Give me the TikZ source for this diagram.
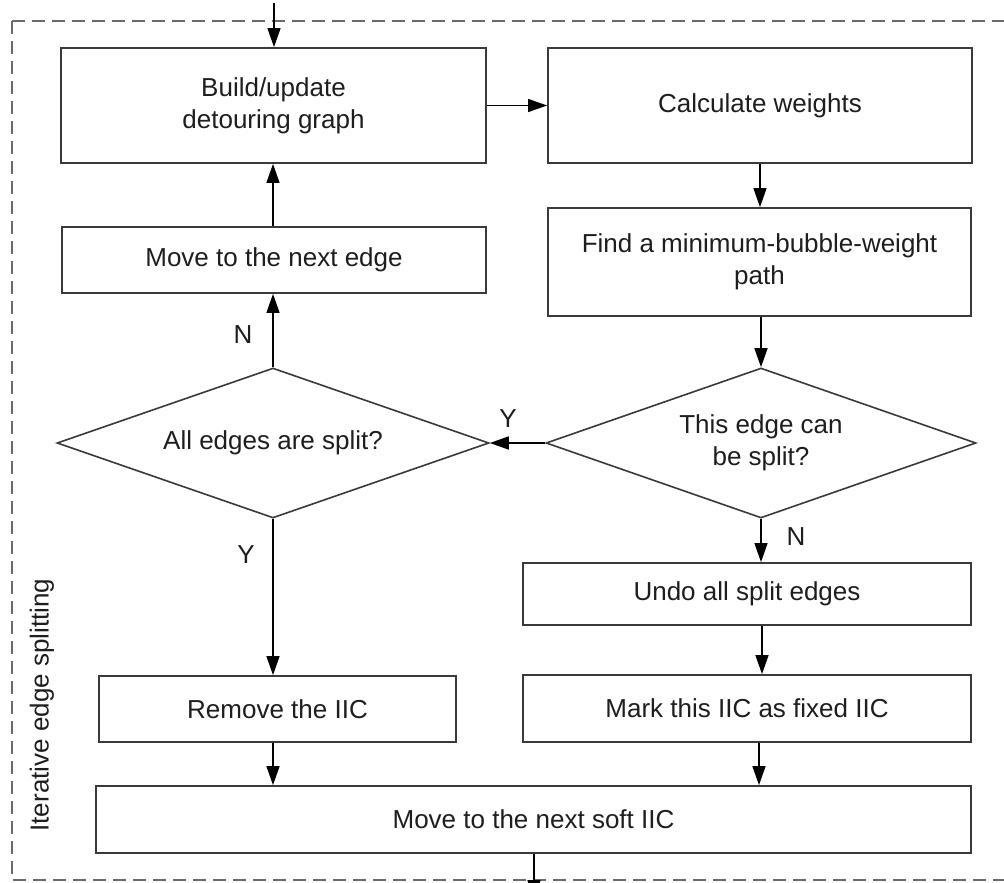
\documentclass[tikz,border=0pt]{standalone}
\usepackage{fontspec}
\setmainfont{Liberation Sans}
\usetikzlibrary{shapes.geometric,arrows.meta}
\definecolor{boxline}{HTML}{3A3A3A}
\definecolor{frameline}{HTML}{6A6A6A}
\definecolor{ink}{HTML}{1E1E1E}
\tikzset{
  flowtext/.style={font=\fontsize{26}{32}\selectfont, text=ink, align=center},
  procbox/.style={flowtext, draw=boxline, line width=1.8pt, rectangle, inner sep=0pt},
  decision/.style={flowtext, draw=boxline, line width=1.6pt, diamond, aspect=2.88,
    inner sep=0pt, minimum width=432pt, minimum height=150pt},
  flowarrow/.style={draw=black, line width=1.5pt, -{Triangle[length=19pt,width=13pt]}},
  branch/.style={flowtext},
}
\begin{document}
\begin{tikzpicture}[x=1pt,y=-1pt]
\clip (0,0) rectangle (1004,883);
\fill[white] (0,0) rectangle (1004,883);

% surrounding dashed frame of the loop
\draw[frameline, line width=1.8pt, dash pattern=on 13pt off 7pt]
  (12,21) -- (1030,21) (12,21) -- (12,880) -- (1030,880);
\node[flowtext, rotate=90] (looplabel) at (42,705) {Iterative edge splitting};

% process boxes
\node[procbox, minimum width=425pt, minimum height=115pt] (build) at (273.5,105.5) {Build/update\\detouring graph};
\node[procbox, minimum width=424pt, minimum height=115pt] (calc) at (760,105.5) {Calculate weights};
\node[procbox, minimum width=424pt, minimum height=66pt] (nextedge) at (274,260) {Move to the next edge};
\node[procbox, minimum width=423pt, minimum height=108pt] (find) at (759.5,262) {Find a minimum-bubble-weight\\path};
\node[procbox, minimum width=448pt, minimum height=62pt] (undo) at (747,594) {Undo all split edges};
\node[procbox, minimum width=357pt, minimum height=66pt] (remove) at (277.5,709) {Remove the IIC};
\node[procbox, minimum width=448pt, minimum height=67pt] (mark) at (747,708.5) {Mark this IIC as fixed IIC};
\node[procbox, minimum width=875pt, minimum height=67pt] (soft) at (533.5,819.5) {Move to the next soft IIC};

% decisions
\node[decision] (allsplit) at (273,443) {All edges are split?};
\node[decision, minimum width=430pt] (cansplit) at (761,443) {This edge can\\be split?};

% loose ends of the flow
\coordinate (entry) at (274,3);
\coordinate (exit) at (534,899);

% connectors
\draw[flowarrow] (entry) -- (entry |- build.north);
\draw[flowarrow] (build.east) -- (calc.west);
\draw[flowarrow] (calc.south -| 760,0) -- (find.north -| 760,0);
\draw[flowarrow] (find.south -| cansplit.north) -- (cansplit.north);
\draw[flowarrow] (cansplit.west) -- (allsplit.east);
\draw (allsplit.north) -- (allsplit.north |- nextedge.south) [flowarrow];
\draw[flowarrow] (nextedge.north -| allsplit.north) -- (build.south -| allsplit.north);
\draw[flowarrow] (allsplit.south) -- (allsplit.south |- remove.north);
\draw[flowarrow] (cansplit.south) -- (cansplit.south |- undo.north);
\draw[flowarrow] (undo.south -| 762,0) -- (mark.north -| 762,0);
\draw[flowarrow] (remove.south -| 273,0) -- (soft.north -| 273,0);
\draw[flowarrow] (mark.south -| 759,0) -- (soft.north -| 759,0);
\draw[flowarrow] (soft.south -| exit) -- (exit);

% branch labels
\node[branch] (nlabel1) at (243,335) {N};
\node[branch] (ylabel1) at (508,419) {Y};
\node[branch] (ylabel2) at (246,555) {Y};
\node[branch] (nlabel2) at (796,537) {N};
\end{tikzpicture}
\end{document}
